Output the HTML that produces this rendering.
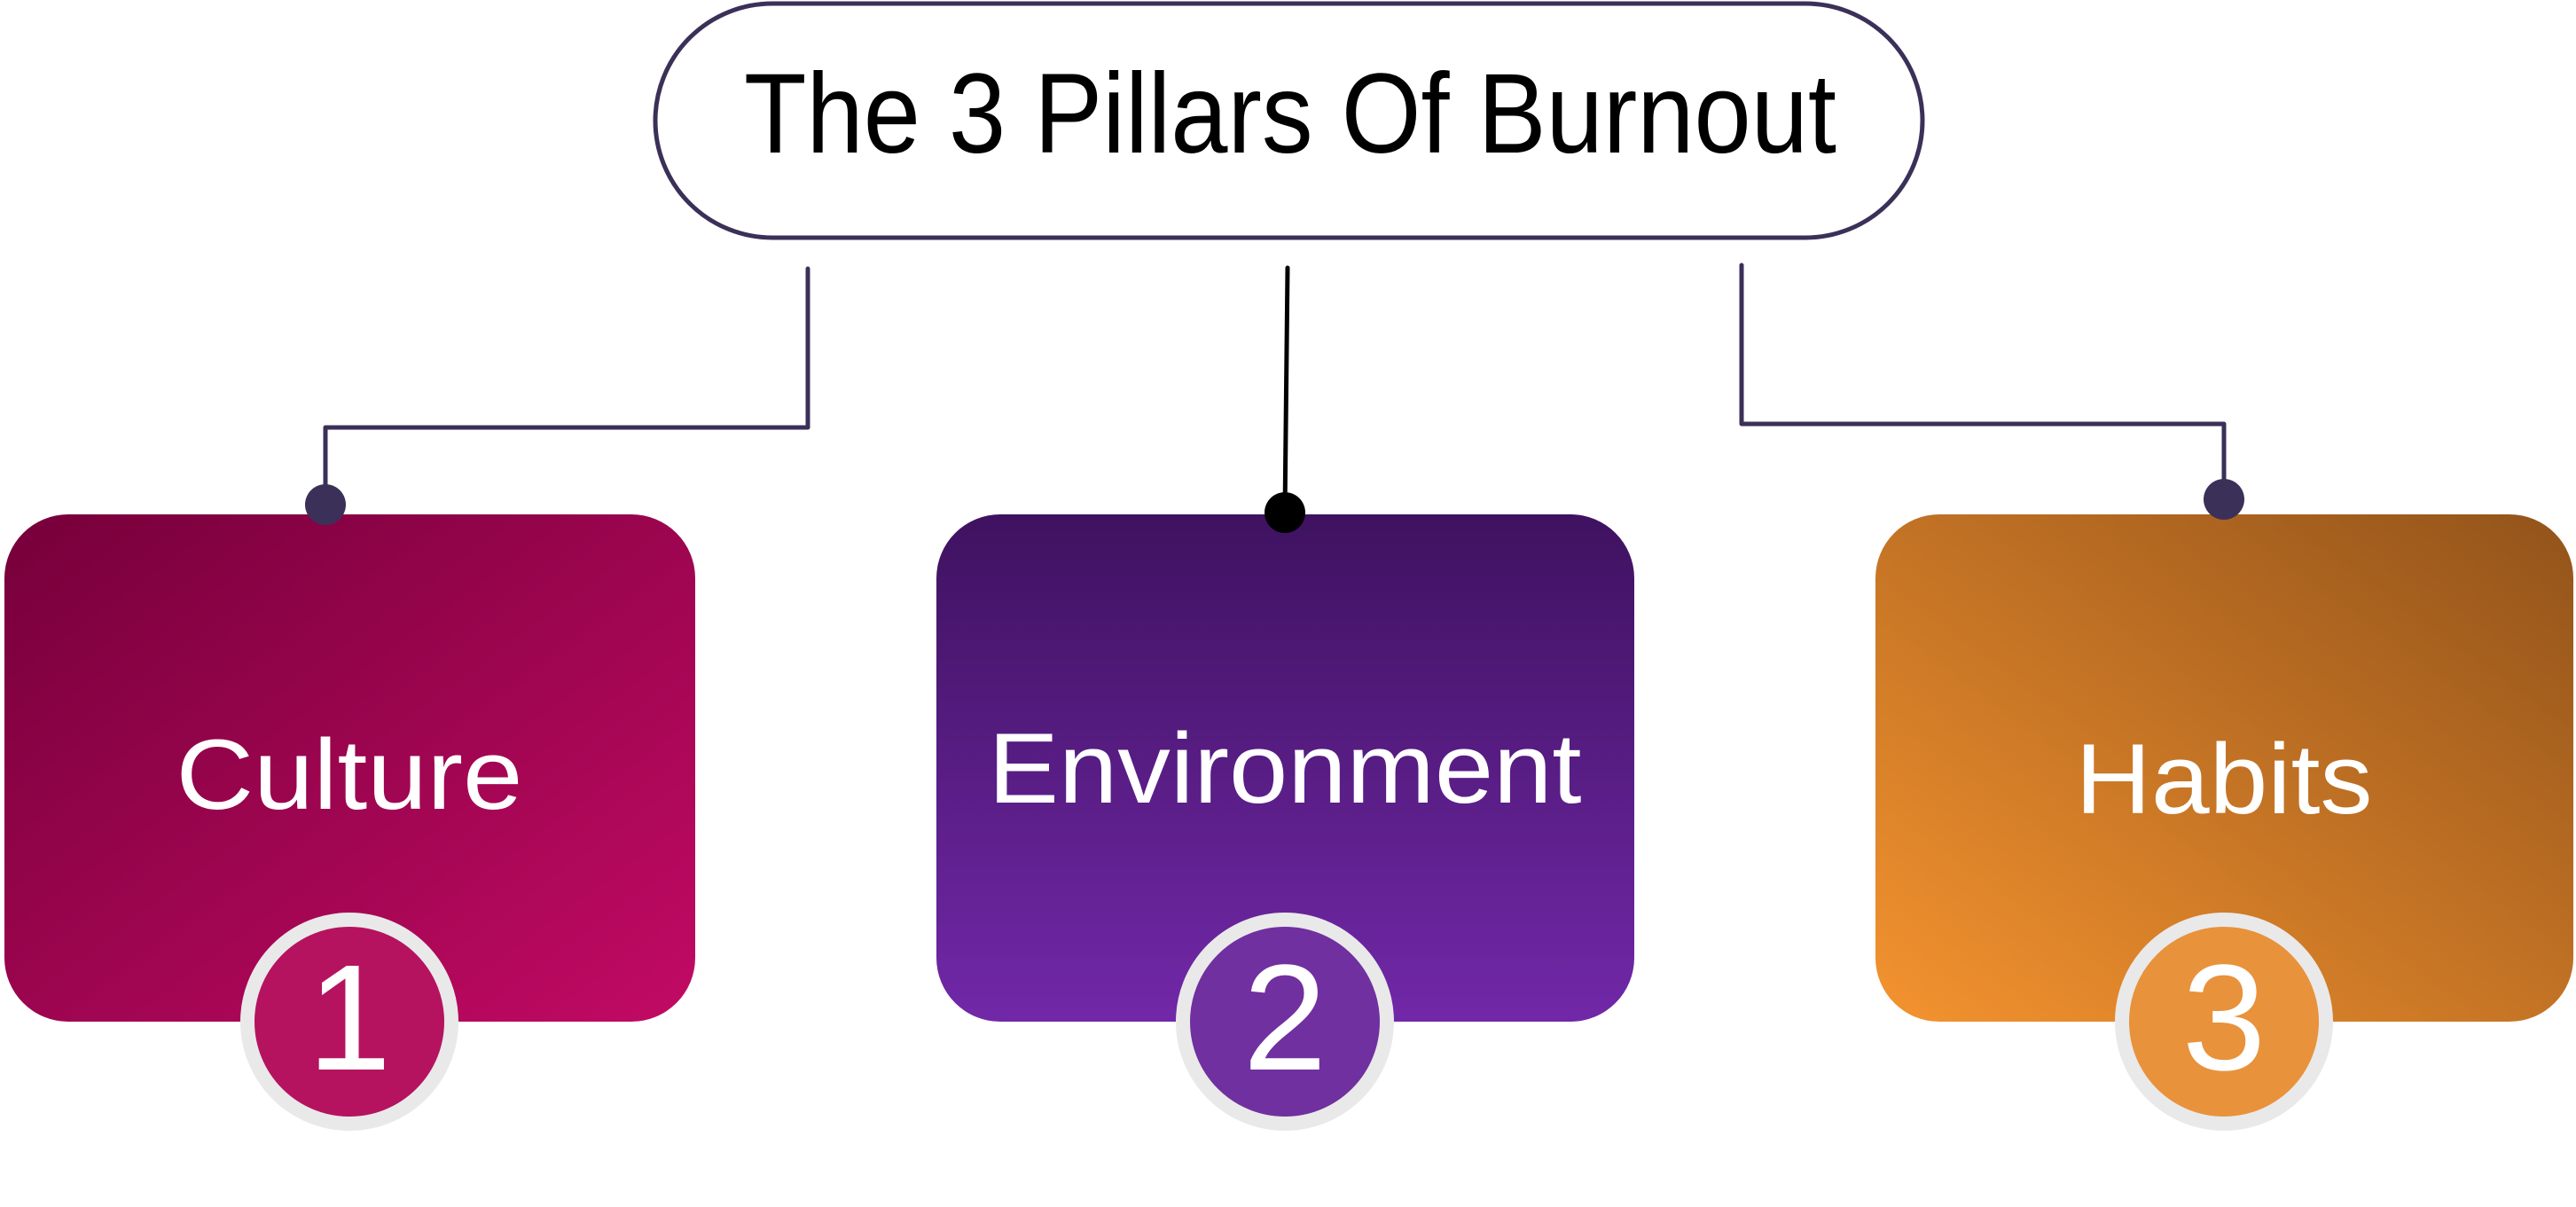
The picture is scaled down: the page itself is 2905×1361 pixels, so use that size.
<!DOCTYPE html>
<html><head><meta charset="utf-8"><style>
html,body{margin:0;padding:0;background:#fff;}
svg{display:block;}
text{font-family:"Liberation Sans",sans-serif;}
</style></head><body>
<svg width="2905" height="1361" viewBox="0 0 2905 1361" xmlns="http://www.w3.org/2000/svg">
<defs>
<linearGradient id="g1" x1="0" y1="0" x2="1" y2="1">
<stop offset="0" stop-color="#76003a"/><stop offset="1" stop-color="#c20a64"/></linearGradient>
<linearGradient id="g2" x1="0" y1="0" x2="0" y2="1">
<stop offset="0" stop-color="#3f1260"/><stop offset="1" stop-color="#7128a8"/></linearGradient>
<linearGradient id="g3" x1="1" y1="0" x2="0" y2="1">
<stop offset="0" stop-color="#92531a"/><stop offset="1" stop-color="#f4932f"/></linearGradient>
</defs>
<rect x="739" y="4" width="1429" height="264" rx="132" fill="#fff" stroke="#3b3058" stroke-width="5"/>
<text x="1455" y="172" font-size="128" text-anchor="middle" fill="#000" textLength="1232" lengthAdjust="spacingAndGlyphs">The 3 Pillars Of Burnout</text>
<g fill="none" stroke="#3b3058" stroke-width="5" stroke-linejoin="round" stroke-linecap="round">
<polyline points="911,303 911,482 367,482 367,580"/>
<polyline points="1964,299 1964,478 2508,478 2508,580"/>
</g>
<line x1="1452" y1="302" x2="1449" y2="578" stroke="#000" stroke-width="5" stroke-linecap="round"/>
<rect x="5" y="580" width="779" height="572" rx="72" fill="url(#g1)"/>
<rect x="1056" y="580" width="787" height="572" rx="72" fill="url(#g2)"/>
<rect x="2115" y="580" width="787" height="572" rx="72" fill="url(#g3)"/>
<circle cx="367" cy="569" r="23" fill="#3b3058"/>
<circle cx="1449" cy="578" r="23" fill="#000"/>
<circle cx="2508" cy="563" r="23" fill="#3b3058"/>
<text x="394" y="912" font-size="112" text-anchor="middle" fill="#fff" textLength="391" lengthAdjust="spacingAndGlyphs">Culture</text>
<text x="1449" y="905" font-size="112" text-anchor="middle" fill="#fff" textLength="669" lengthAdjust="spacingAndGlyphs">Environment</text>
<text x="2508" y="917" font-size="112" text-anchor="middle" fill="#fff" textLength="335" lengthAdjust="spacingAndGlyphs">Habits</text>
<circle cx="394" cy="1152" r="115" fill="#b5135f" stroke="#e9e9e9" stroke-width="16"/>
<circle cx="1449" cy="1152" r="115" fill="#7030a0" stroke="#e9e9e9" stroke-width="16"/>
<circle cx="2508" cy="1152" r="115" fill="#e8923c" stroke="#e9e9e9" stroke-width="16"/>
<text x="394" y="1206" font-size="170" text-anchor="middle" fill="#fff">1</text>
<text x="1449" y="1206" font-size="170" text-anchor="middle" fill="#fff">2</text>
<text x="2508" y="1206" font-size="170" text-anchor="middle" fill="#fff">3</text>
</svg>
</body></html>
